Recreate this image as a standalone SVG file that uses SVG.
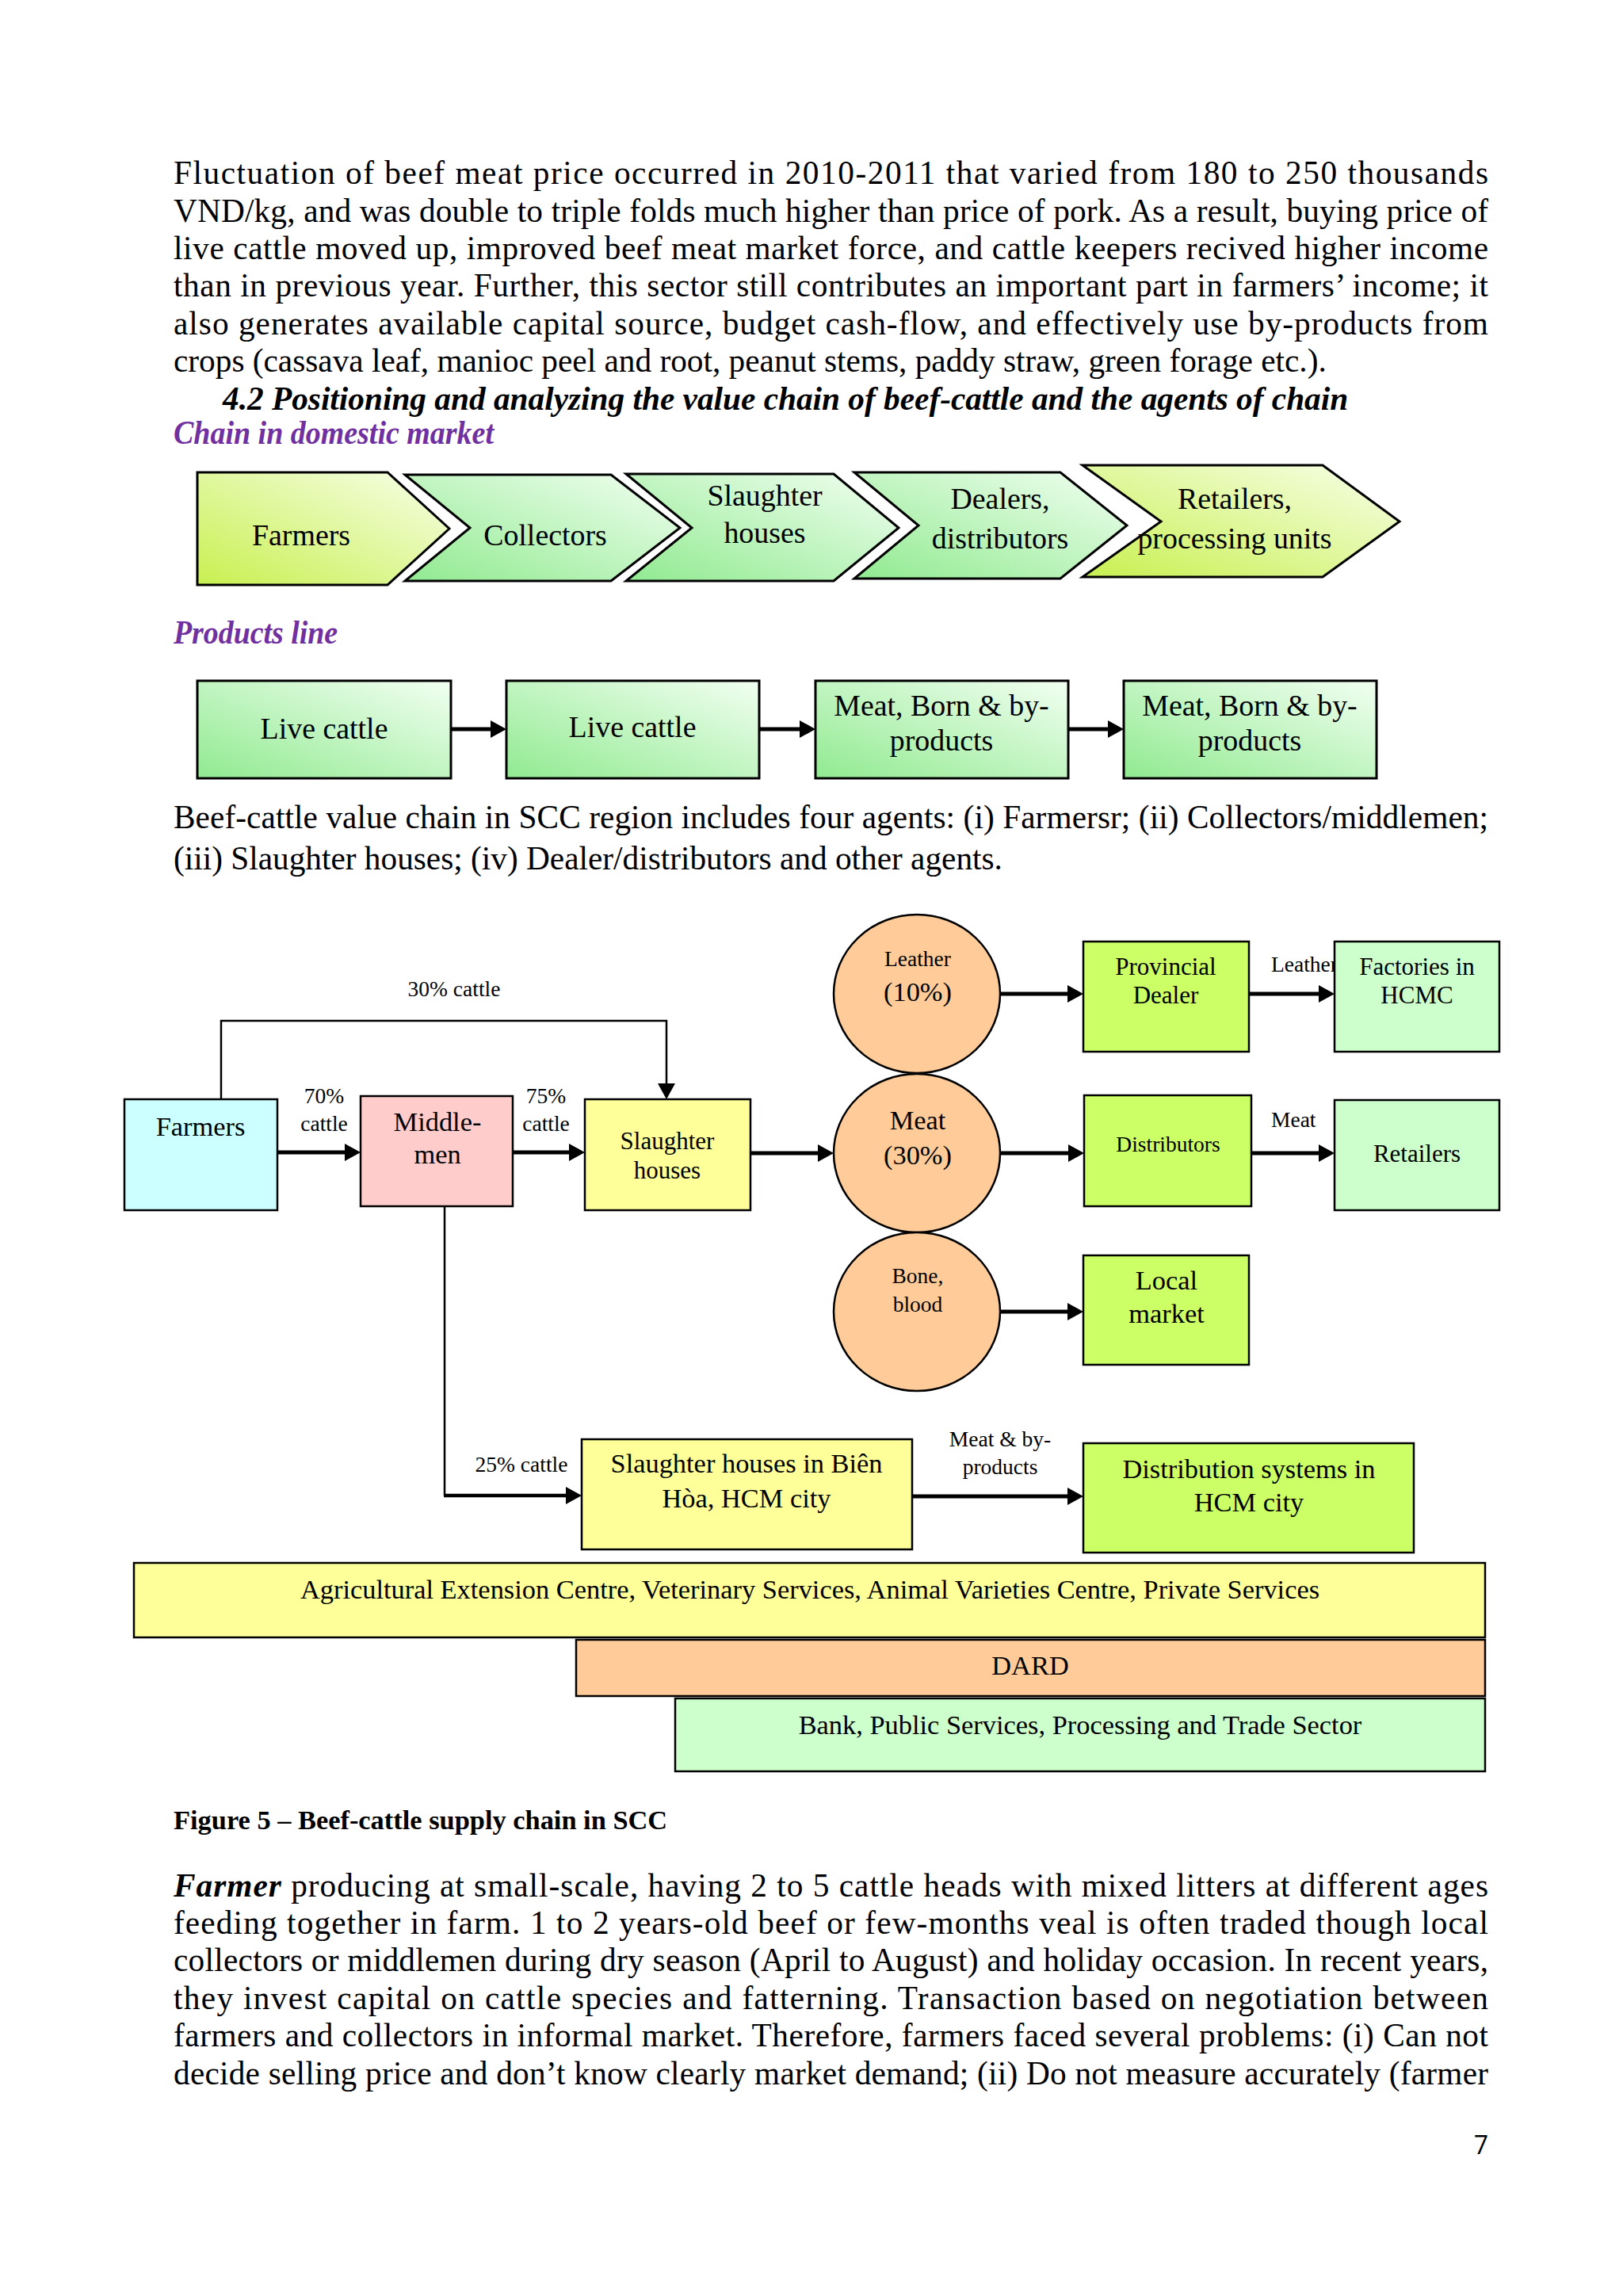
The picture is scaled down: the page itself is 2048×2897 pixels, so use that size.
<svg xmlns="http://www.w3.org/2000/svg" width="2048" height="2897" viewBox="0 0 2048 2897">
<defs>
<style>
text{font-family:"Liberation Serif","Times New Roman",serif;fill:#000}
.p{font-size:41.3px}
.h{font-size:41.3px;font-weight:bold;font-style:italic}
.pu{font-size:41.3px;font-weight:bold;font-style:italic;fill:#7030A0}
.c{font-size:37.9px;text-anchor:middle}
.m{font-size:34.4px;text-anchor:middle}
.s{font-size:31px;text-anchor:middle}
.t{font-size:27.5px;text-anchor:middle}
.ts{font-size:27.5px}
.cap{font-size:34.4px;font-weight:bold}
.box{stroke:#000;stroke-width:2.5}
.chev{stroke:#000;stroke-width:3}
.thick{stroke:#000;stroke-width:5;fill:none}
.thin{stroke:#000;stroke-width:2.5;fill:none}
</style>
<linearGradient id="gY" x1="0" y1="1" x2="1" y2="0">
<stop offset="0" stop-color="#C8F050"/><stop offset="1" stop-color="#F8FFEA"/>
</linearGradient>
<linearGradient id="gG" x1="0" y1="1" x2="1" y2="0">
<stop offset="0" stop-color="#90EA90"/><stop offset="1" stop-color="#F2FFF2"/>
</linearGradient>
<marker id="ah" markerUnits="userSpaceOnUse" markerWidth="20" markerHeight="22" viewBox="0 0 20 22" refX="2" refY="11" orient="auto">
<path d="M0,0 L20,11 L0,22 Z" fill="#000"/>
</marker>
</defs>
<rect width="2048" height="2897" fill="#fff"/>

<g id="para1">
<text class="p" x="219" y="232" textLength="1659" lengthAdjust="spacing">Fluctuation of beef meat price occurred in 2010-2011 that varied from 180 to 250 thousands</text>
<text class="p" x="219" y="280" textLength="1659" lengthAdjust="spacing">VND/kg, and was double to triple folds much higher than price of pork. As a result, buying price of</text>
<text class="p" x="219" y="327" textLength="1659" lengthAdjust="spacing">live cattle moved up, improved beef meat market force, and cattle keepers recived higher income</text>
<text class="p" x="219" y="374" textLength="1659" lengthAdjust="spacing">than in previous year. Further, this sector still contributes an important part in farmers’ income; it</text>
<text class="p" x="219" y="422" textLength="1659" lengthAdjust="spacing">also generates available capital source, budget cash-flow, and effectively use by-products from</text>
<text class="p" x="219" y="469">crops (cassava leaf, manioc peel and root, peanut stems, paddy straw, green forage etc.).</text>
<text class="h" x="281" y="517">4.2 Positioning and analyzing the value chain of beef-cattle and the agents of chain</text>
<text class="pu" x="219" y="560" textLength="404" lengthAdjust="spacingAndGlyphs">Chain in domestic market</text>
</g>

<g id="chain">
<g id="ch-farmers">
<path class="chev" d="M249,596 L489,596 L567,667 L489,738 L249,738 Z" fill="url(#gY)"/>
<text class="c" x="380" y="688">Farmers</text>
</g>
<g id="ch-collectors">
<path class="chev" d="M511,599 L771,599 L858,666 L771,733 L511,733 L593,666 Z" fill="url(#gG)"/>
<text class="c" x="688" y="688">Collectors</text>
</g>
<g id="ch-slaughter">
<path class="chev" d="M790,598 L1052,598 L1134,666 L1052,733 L790,733 L873,666 Z" fill="url(#gG)"/>
<text class="c" x="965" y="638">Slaughter</text>
<text class="c" x="965" y="685">houses</text>
</g>
<g id="ch-dealers">
<path class="chev" d="M1078,596 L1338,596 L1422,663 L1338,730 L1078,730 L1159,663 Z" fill="url(#gG)"/>
<text class="c" x="1262" y="642">Dealers,</text>
<text class="c" x="1262" y="692">distributors</text>
</g>
<g id="ch-retailers">
<path class="chev" d="M1366,587 L1669,587 L1766,658 L1669,728 L1366,728 L1465,658 Z" fill="url(#gY)"/>
<text class="c" x="1558" y="642">Retailers,</text>
<text class="c" x="1558" y="692">processing units</text>
</g>
</g>

<text class="pu" x="219" y="812" textLength="207" lengthAdjust="spacingAndGlyphs">Products line</text>

<g id="products">
<g id="pr1"><rect class="chev" x="249" y="859" width="320" height="123" fill="url(#gG)"/><text class="c" x="409" y="932">Live cattle</text></g>
<g id="pr2"><rect class="chev" x="639" y="859" width="319" height="123" fill="url(#gG)"/><text class="c" x="798" y="930">Live cattle</text></g>
<g id="pr3"><rect class="chev" x="1029" y="859" width="319" height="123" fill="url(#gG)"/><text class="c" x="1188" y="903">Meat, Born &amp; by-</text><text class="c" x="1188" y="947">products</text></g>
<g id="pr4"><rect class="chev" x="1418" y="859" width="319" height="123" fill="url(#gG)"/><text class="c" x="1577" y="903">Meat, Born &amp; by-</text><text class="c" x="1577" y="947">products</text></g>
</g>
<g id="product-connectors">
<line class="thick" x1="569" y1="920" x2="621" y2="920" marker-end="url(#ah)"/>
<line class="thick" x1="958" y1="920" x2="1011" y2="920" marker-end="url(#ah)"/>
<line class="thick" x1="1348" y1="920" x2="1400" y2="920" marker-end="url(#ah)"/>
</g>

<g id="para2">
<text class="p" x="219" y="1045" textLength="1659" lengthAdjust="spacing">Beef-cattle value chain in SCC region includes four agents: (i) Farmersr; (ii) Collectors/middlemen;</text>
<text class="p" x="219" y="1097">(iii) Slaughter houses; (iv) Dealer/distributors and other agents.</text>
</g>

<g id="connectors">
<line class="thick" x1="350" y1="1454" x2="437" y2="1454" marker-end="url(#ah)"/>
<line class="thick" x1="647" y1="1454" x2="720" y2="1454" marker-end="url(#ah)"/>
<line class="thick" x1="947" y1="1455" x2="1034" y2="1455" marker-end="url(#ah)"/>
<line class="thick" x1="1262" y1="1254" x2="1349" y2="1254" marker-end="url(#ah)"/>
<line class="thick" x1="1576" y1="1254" x2="1666" y2="1254" marker-end="url(#ah)"/>
<line class="thick" x1="1262" y1="1455" x2="1350" y2="1455" marker-end="url(#ah)"/>
<line class="thick" x1="1579" y1="1455" x2="1666" y2="1455" marker-end="url(#ah)"/>
<line class="thick" x1="1262" y1="1655" x2="1349" y2="1655" marker-end="url(#ah)"/>
<path class="thin" d="M279,1387 V1288 H841 V1369" marker-end="url(#ah)"/>
<path class="thin" d="M561,1522 V1887"/>
<path d="M560,1887 H716" stroke="#000" stroke-width="4.5" fill="none" marker-end="url(#ah)"/>
<line class="thick" x1="1151" y1="1888" x2="1349" y2="1888" marker-end="url(#ah)"/>
<text class="t" x="573" y="1257">30% cattle</text>
<text class="t" x="409" y="1392">70%</text>
<text class="t" x="409" y="1427">cattle</text>
<text class="t" x="689" y="1392">75%</text>
<text class="t" x="689" y="1427">cattle</text>
<text class="ts" x="1604" y="1226">Leather</text>
<text class="ts" x="1604" y="1422">Meat</text>
<text class="t" x="658" y="1857">25% cattle</text>
<text class="t" x="1262" y="1825">Meat &amp; by-</text>
<text class="t" x="1262" y="1860">products</text>
</g>

<g id="n-farmers"><rect class="box" x="157" y="1387" width="193" height="140" fill="#CCFFFF"/><text class="m" x="253" y="1433">Farmers</text></g>
<g id="n-middlemen"><rect class="box" x="455" y="1383" width="192" height="139" fill="#FFCCCC"/><text class="m" x="552" y="1427">Middle-</text><text class="m" x="552" y="1468">men</text></g>
<g id="n-slaughter"><rect class="box" x="738" y="1387" width="209" height="140" fill="#FFFF99"/><text class="s" x="842" y="1450">Slaughter</text><text class="s" x="842" y="1487">houses</text></g>
<g id="n-leather"><ellipse class="box" cx="1157" cy="1254" rx="105" ry="100" fill="#FFCC99"/><text class="t" x="1158" y="1219">Leather</text><text class="m" x="1158" y="1263">(10%)</text></g>
<g id="n-meat"><ellipse class="box" cx="1157" cy="1455" rx="105" ry="100" fill="#FFCC99"/><text class="m" x="1158" y="1425">Meat</text><text class="m" x="1158" y="1469">(30%)</text></g>
<g id="n-bone"><ellipse class="box" cx="1157" cy="1655" rx="105" ry="100" fill="#FFCC99"/><text class="t" x="1158" y="1619">Bone,</text><text class="t" x="1158" y="1655">blood</text></g>
<g id="n-provincial"><rect class="box" x="1367" y="1188" width="209" height="139" fill="#CCFF66"/><text class="s" x="1471" y="1230">Provincial</text><text class="s" x="1471" y="1266">Dealer</text></g>
<g id="n-factories"><rect class="box" x="1684" y="1188" width="208" height="139" fill="#CCFFCC"/><text class="s" x="1788" y="1230">Factories in</text><text class="s" x="1788" y="1266">HCMC</text></g>
<g id="n-distributors"><rect class="box" x="1368" y="1382" width="211" height="140" fill="#CCFF66"/><text class="t" x="1474" y="1453">Distributors</text></g>
<g id="n-retailers"><rect class="box" x="1684" y="1388" width="208" height="139" fill="#CCFFCC"/><text class="s" x="1788" y="1466">Retailers</text></g>
<g id="n-local"><rect class="box" x="1367" y="1584" width="209" height="138" fill="#CCFF66"/><text class="m" x="1472" y="1627">Local</text><text class="m" x="1472" y="1669">market</text></g>
<g id="n-bienhoa"><rect class="box" x="734" y="1816" width="417" height="139" fill="#FFFF99"/><text class="m" x="942" y="1858">Slaughter houses in Biên</text><text class="m" x="942" y="1902">Hòa, HCM city</text></g>
<g id="n-distribution"><rect class="box" x="1367" y="1821" width="417" height="138" fill="#CCFF66"/><text class="m" x="1576" y="1865">Distribution systems in</text><text class="m" x="1576" y="1907">HCM city</text></g>
<g id="n-extension"><rect class="box" x="169" y="1972" width="1705" height="94" fill="#FFFF99"/><text class="m" x="1022" y="2017">Agricultural Extension Centre, Veterinary Services, Animal Varieties Centre, Private Services</text></g>
<g id="n-dard"><rect class="box" x="727" y="2069" width="1147" height="71" fill="#FFCC99"/><text class="m" x="1300" y="2113">DARD</text></g>
<g id="n-bank"><rect class="box" x="852" y="2143" width="1022" height="92" fill="#CCFFCC"/><text class="m" x="1363" y="2188">Bank, Public Services, Processing and Trade Sector</text></g>

<text class="cap" x="219" y="2308">Figure 5 – Beef-cattle supply chain in SCC</text>

<g id="para3">
<text class="p" x="219" y="2393" textLength="1659" lengthAdjust="spacing"><tspan font-weight="bold" font-style="italic">Farmer</tspan> producing at small-scale, having 2 to 5 cattle heads with mixed litters at different ages</text>
<text class="p" x="219" y="2440" textLength="1659" lengthAdjust="spacing">feeding together in farm. 1 to 2 years-old beef or few-months veal is often traded though local</text>
<text class="p" x="219" y="2487" textLength="1659" lengthAdjust="spacing">collectors or middlemen during dry season (April to August) and holiday occasion. In recent years,</text>
<text class="p" x="219" y="2535" textLength="1659" lengthAdjust="spacing">they invest capital on cattle species and fatterning. Transaction based on negotiation between</text>
<text class="p" x="219" y="2582" textLength="1659" lengthAdjust="spacing">farmers and collectors in informal market. Therefore, farmers faced several problems: (i) Can not</text>
<text class="p" x="219" y="2630" textLength="1659" lengthAdjust="spacing">decide selling price and don’t know clearly market demand; (ii) Do not measure accurately (farmer</text>
</g>

<text x="1878" y="2718" style="font-family:'Open Sans','Liberation Sans',sans-serif;font-size:32px;text-anchor:end">7</text>
</svg>
